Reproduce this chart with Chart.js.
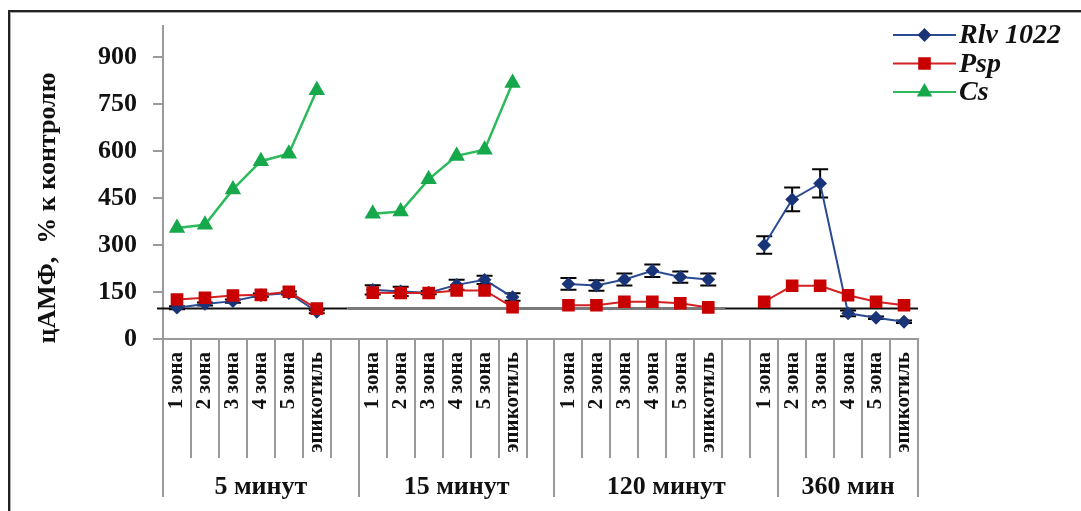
<!DOCTYPE html>
<html>
<head>
<meta charset="utf-8">
<script src="https://cdn.jsdelivr.net/npm/chart.js@4.4.1/dist/chart.umd.min.js"></script>
<style>
  html, body { margin: 0; padding: 0; background: #fff; overflow: hidden; }
  #wrap { position: relative; width: 1081px; height: 511px; overflow: hidden; }
  #frame {
    position: absolute; left: 8px; top: 10px; width: 1200px; height: 700px;
    border-left: 2px solid #222; border-top: 2px solid #222;
    box-shadow: inset 1px 1px 0 #aaa;
  }
  canvas { position: absolute; left: 0; top: 0; }
</style>
</head>
<body>
<div id="wrap">
  <div id="frame"></div>
  <canvas id="chart" width="1081" height="511"></canvas>
</div>
<script>
// Category slots along the x axis (empty strings are spacer slots between time groups)
const categories = [
  '1 зона', '2 зона', '3 зона', '4 зона', '5 зона', 'эпикотиль', '',
  '1 зона', '2 зона', '3 зона', '4 зона', '5 зона', 'эпикотиль', '',
  '1 зона', '2 зона', '3 зона', '4 зона', '5 зона', 'эпикотиль', '',
  '1 зона', '2 зона', '3 зона', '4 зона', '5 зона', 'эпикотиль'
];

// Time groups and the slot index where each group starts
const groupLabels = ['5 минут', '15 минут', '120 минут', '360 мин'];
const groupStarts = [0, 7, 14, 22];

// цАМФ, % of control
const rlv1022 = [
  100, 112, 121, 140, 147, 87, null,
  157, 152, 148, 173, 189, 134, null,
  176, 171, 190, 218, 198, 190, null,
  300, 446, 497, 82, 68, 55
];
const rlv1022Err = [
  5, 5, 5, 5, 5, 5, null,
  15, 15, 5, 16, 13, 12, null,
  19, 17, 19, 20, 18, 19, null,
  28, 38, 45, 9, 4, 4
];
const psp = [
  126, 132, 139, 141, 151, 97, null,
  148, 147, 147, 155, 155, 102, null,
  108, 108, 119, 119, 114, 101, null,
  119, 170, 170, 140, 119, 108
];
const cs = [
  355, 365, 478, 568, 592, 795, null,
  400, 407, 510, 585, 605, 818, null,
  null, null, null, null, null, null, null,
  null, null, null, null, null, null
];

// Control level (100 %)
const controlLevel = 100;

const yTicks = [0, 150, 300, 450, 600, 750, 900];

const SERIF = '"Liberation Serif", "Times New Roman", serif';

// Horizontal line at the control level
const controlLinePlugin = {
  id: 'controlLine',
  beforeDatasetsDraw(chart) {
    const { ctx } = chart;
    const x = chart.scales.x, y = chart.scales.y;
    const w = x.getPixelForValue(1) - x.getPixelForValue(0);
    const py = Math.round(y.getPixelForValue(controlLevel)) + 0.5;
    const segs = [
      [x.left - 6, x.getPixelForValue(6) + 0.1 * w, '#111', 2],
      [x.getPixelForValue(6) + 0.1 * w, x.getPixelForValue(20) - 0.4 * w, '#7a7a7a', 3],
      [x.getPixelForValue(20) - 0.4 * w, x.right, '#111', 2]
    ];
    ctx.save();
    segs.forEach(([a, b, c, lw]) => {
      ctx.strokeStyle = c;
      ctx.lineWidth = lw;
      ctx.beginPath();
      ctx.moveTo(a, py);
      ctx.lineTo(b, py);
      ctx.stroke();
    });
    ctx.restore();
  }
};

// Error bars for the Rlv 1022 series
const errorBarPlugin = {
  id: 'errorBars',
  beforeDatasetsDraw(chart) {
    const { ctx } = chart;
    const y = chart.scales.y;
    const meta = chart.getDatasetMeta(0);
    ctx.save();
    ctx.strokeStyle = '#000';
    ctx.lineWidth = 2;
    meta.data.forEach((pt, i) => {
      const v = rlv1022[i], e = rlv1022Err[i];
      if (v == null || e == null) return;
      const top = y.getPixelForValue(v + e);
      const bot = y.getPixelForValue(v - e);
      ctx.beginPath();
      ctx.moveTo(pt.x, top); ctx.lineTo(pt.x, bot);
      ctx.moveTo(pt.x - 8, top); ctx.lineTo(pt.x + 8, top);
      ctx.moveTo(pt.x - 8, bot); ctx.lineTo(pt.x + 8, bot);
      ctx.stroke();
    });
    ctx.restore();
  }
};

// Category separators and time-group labels under the x axis
const categoryFramePlugin = {
  id: 'categoryFrame',
  afterDraw(chart) {
    const { ctx } = chart;
    const x = chart.scales.x;
    const w = x.getPixelForValue(1) - x.getPixelForValue(0);
    const top = x.top;
    const n = categories.length;
    ctx.save();
    ctx.strokeStyle = '#9a9a9a';
    ctx.lineWidth = 2;
    for (let k = 0; k <= n; k++) {
      const px = Math.round(x.getPixelForValue(k) - w / 2);
      const long = groupStarts.includes(k) || k === n;
      ctx.beginPath();
      ctx.moveTo(px, top);
      ctx.lineTo(px, long ? top + 158 : top + 119);
      ctx.stroke();
    }
    ctx.fillStyle = '#111';
    ctx.font = 'bold 26px ' + SERIF;
    ctx.textAlign = 'center';
    ctx.textBaseline = 'middle';
    groupLabels.forEach((lab, g) => {
      const s = groupStarts[g];
      const e = g + 1 < groupStarts.length ? groupStarts[g + 1] : n;
      const cx = (x.getPixelForValue(s) + x.getPixelForValue(e - 1)) / 2;
      ctx.fillText(lab, cx, top + 148);
    });
    ctx.restore();
  }
};

// Y axis title
const yTitlePlugin = {
  id: 'yTitle',
  afterDraw(chart) {
    const { ctx } = chart;
    ctx.save();
    ctx.translate(48, 208);
    ctx.rotate(-Math.PI / 2);
    ctx.fillStyle = '#111';
    ctx.font = 'bold 26px ' + SERIF;
    ctx.textAlign = 'center';
    ctx.textBaseline = 'middle';
    ctx.fillText('цАМФ,  % к контролю', 0, 0);
    ctx.restore();
  }
};

// Legend: line with marker, followed by the series name
const legendPlugin = {
  id: 'lineLegend',
  afterDraw(chart) {
    const { ctx } = chart;
    const x0 = 893, x1 = 956;
    ctx.save();
    chart.data.datasets.forEach((ds, i) => {
      const y = 35 + i * 28.5;
      ctx.strokeStyle = ds.borderColor;
      ctx.lineWidth = 2;
      ctx.beginPath();
      ctx.moveTo(x0, y); ctx.lineTo(x1, y);
      ctx.stroke();
      ctx.fillStyle = ds.pointBackgroundColor;
      ctx.strokeStyle = ds.pointBorderColor;
      Chart.helpers.drawPoint(ctx, {
        pointStyle: ds.pointStyle,
        radius: ds.pointRadius,
        rotation: 0,
        borderWidth: 1
      }, (x0 + x1) / 2, y);
      ctx.fillStyle = '#111';
      ctx.font = 'italic bold 28px ' + SERIF;
      ctx.textAlign = 'left';
      ctx.textBaseline = 'middle';
      ctx.fillText(ds.label, 959, y + 1);
    });
    ctx.restore();
  }
};

new Chart(document.getElementById('chart'), {
  type: 'line',
  data: {
    labels: categories,
    datasets: [
      {
        label: 'Rlv 1022',
        data: rlv1022,
        borderColor: '#2A4B94',
        backgroundColor: '#1A3478',
        pointBackgroundColor: '#1A3478',
        pointBorderColor: '#1A3478',
        pointStyle: 'rectRot',
        pointRadius: 5.5,
        borderWidth: 2,
        order: 2
      },
      {
        label: 'Psp',
        data: psp,
        borderColor: '#D42020',
        backgroundColor: '#C80000',
        pointBackgroundColor: '#C80000',
        pointBorderColor: '#C80000',
        pointStyle: 'rect',
        pointRadius: 7.5,
        borderWidth: 2,
        order: 1
      },
      {
        label: 'Cs',
        data: cs,
        borderColor: '#2DBA5C',
        backgroundColor: '#16A84A',
        pointBackgroundColor: '#16A84A',
        pointBorderColor: '#16A84A',
        pointStyle: 'triangle',
        pointRadius: 7,
        borderWidth: 2.5,
        order: 0
      }
    ]
  },
  options: {
    responsive: false,
    animation: false,
    spanGaps: false,
    layout: { padding: { top: 26, right: 163, left: 0, bottom: 0 } },
    plugins: { legend: { display: false }, tooltip: { enabled: false } },
    scales: {
      x: {
        type: 'category',
        offset: true,
        grid: { display: false, drawTicks: false },
        border: { display: true, color: '#9a9a9a', width: 2 },
        ticks: {
          autoSkip: false,
          minRotation: 90,
          maxRotation: 90,
          padding: 13,
          color: '#111',
          font: { family: SERIF, size: 21, weight: 'bold' }
        },
        afterFit(s) { s.height = 172; s.paddingLeft = 0; s.paddingRight = 0; }
      },
      y: {
        min: 0,
        max: 1000,
        afterBuildTicks(s) { s.ticks = yTicks.map(v => ({ value: v })); },
        ticks: {
          stepSize: 150,
          padding: 16,
          color: '#111',
          font: { family: SERIF, size: 26, weight: 'bold' }
        },
        grid: { drawOnChartArea: false, drawTicks: true, tickLength: 10, color: '#9a9a9a', lineWidth: 2 },
        border: { display: true, color: '#9a9a9a', width: 2 },
        afterFit(s) { s.width = 163; s.paddingTop = 0; s.paddingBottom = 0; }
      }
    }
  },
  plugins: [controlLinePlugin, errorBarPlugin, categoryFramePlugin, yTitlePlugin, legendPlugin]
});
</script>
</body>
</html>
